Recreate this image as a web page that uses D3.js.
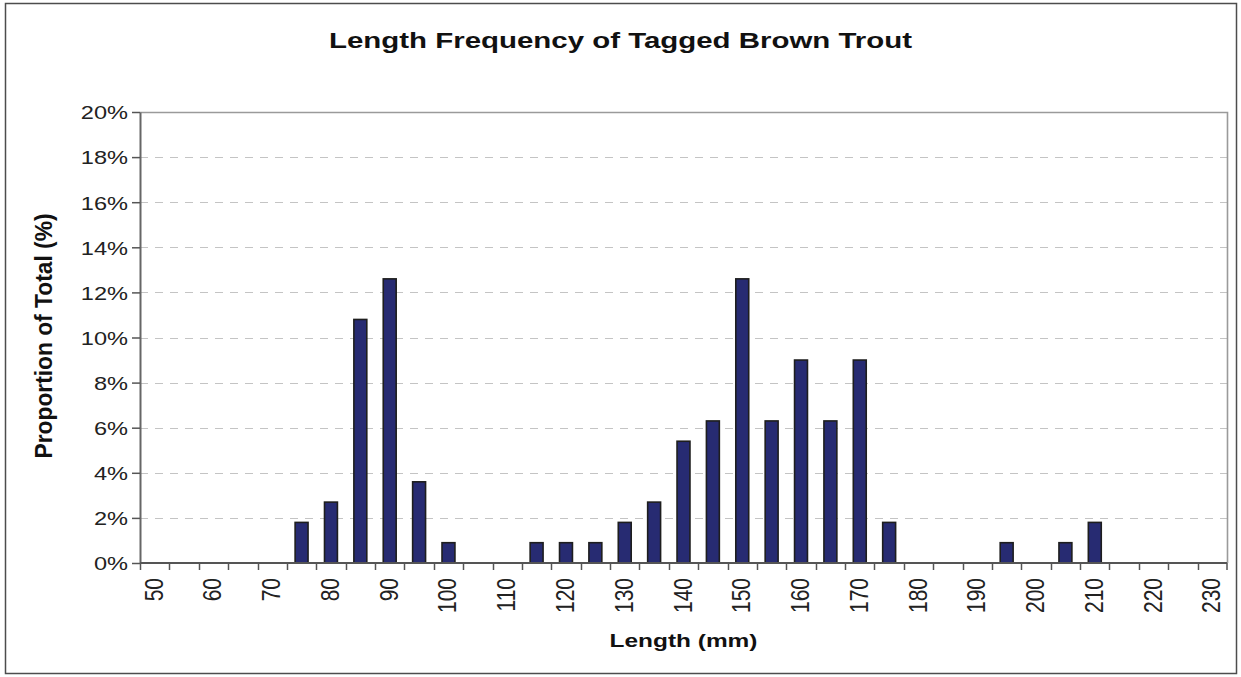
<!DOCTYPE html>
<html>
<head>
<meta charset="utf-8">
<script src="https://cdn.jsdelivr.net/npm/d3@7"></script>
<style>
  body { margin: 0; background: #fff; }
  svg { display: block; font-family: "Liberation Sans", Arial, sans-serif; }
</style>
</head>
<body>
<div class="g-chart"></div>
<script>
// length classes (mm), 5 mm steps
var lengths = d3.range(50, 235, 5);
// proportion of total (%) per length class
var lengthsWithFish = [75, 80, 85, 90, 95, 100, 115, 120, 125, 130, 135, 140, 145, 150, 155, 160, 165, 170, 175, 195, 205, 210];
var proportions     = [1.8, 2.7, 10.8, 12.6, 3.6, 0.9, 0.9, 0.9, 0.9, 1.8, 2.7, 5.4, 6.3, 12.6, 6.3, 9.0, 6.3, 9.0, 1.8, 0.9, 0.9, 1.8];
var yTicks = [0, 2, 4, 6, 8, 10, 12, 14, 16, 18, 20];
var xLabels = d3.range(50, 235, 10);

var data = lengths.map(function(l) {
  var i = lengthsWithFish.indexOf(l);
  return { length: l, value: i >= 0 ? proportions[i] : 0 };
});

var width = 1241, height = 677,
    margin = {top: 112, right: 14, bottom: 114, left: 140},
    stretch = 1.25; // the original picture is wider than it is tall

var svg = d3.select('.g-chart').append('svg')
  .attr('width', width)
  .attr('height', height);

// widen horizontal text to match the stretched original
function widen(sel, s) {
  sel.each(function() {
    var t = d3.select(this);
    t.attr('textLength', this.getComputedTextLength() * s)
     .attr('lengthAdjust', 'spacingAndGlyphs');
  });
}

// outer chart border
svg.append('rect')
  .attr('x', 5.5).attr('y', 3.5)
  .attr('width', 1231).attr('height', 670)
  .attr('fill', 'none')
  .attr('stroke', '#4d4d4d')
  .attr('stroke-width', 1.5);

var x = d3.scaleBand()
  .domain(lengths)
  .range([margin.left, width - margin.right])
  .paddingInner(0.56)
  .paddingOuter(0.28);

var xb = d3.scaleBand().domain(lengths).range([margin.left, width - margin.right]);

var y = d3.scaleLinear()
  .domain([0, 20])
  .range([height - margin.bottom, margin.top]);

var plotW = width - margin.right - margin.left;

// grid lines
svg.append('g')
  .selectAll('line')
  .data(yTicks.filter(function(d) { return d > 0 && d < 20; }))
  .enter().append('line')
  .attr('x1', margin.left).attr('x2', width - margin.right)
  .attr('y1', function(d) { return Math.round(y(d)) + 0.5; })
  .attr('y2', function(d) { return Math.round(y(d)) + 0.5; })
  .attr('stroke', '#c4c4c4')
  .attr('stroke-width', 1.2)
  .attr('stroke-dasharray', '8,7');

// top and right plot border
svg.append('path')
  .attr('d', 'M' + margin.left + ',' + (margin.top + 0.5) + 'H' + (width - margin.right + 0.5) + 'V' + (height - margin.bottom))
  .attr('fill', 'none')
  .attr('stroke', '#9a9a9a')
  .attr('stroke-width', 1.6);

// bars
svg.append('g')
  .selectAll('rect')
  .data(data.filter(function(d) { return d.value > 0; }))
  .enter().append('rect')
  .attr('x', function(d) { return x(d.length); })
  .attr('y', function(d) { return y(d.value); })
  .attr('width', x.bandwidth())
  .attr('height', function(d) { return y(0) - y(d.value); })
  .attr('fill', '#272b72')
  .attr('stroke', '#1e1e1e')
  .attr('stroke-width', 1.6);

// y axis
var yAxis = svg.append('g')
  .attr('transform', 'translate(' + margin.left + ',0)')
  .call(d3.axisLeft(y).tickValues(yTicks).tickSize(8).tickSizeOuter(0).tickPadding(4)
    .tickFormat(function(d) { return d + '%'; }));
yAxis.select('.domain').attr('stroke', '#666').attr('stroke-width', 2);
yAxis.selectAll('.tick line').attr('stroke', '#555').attr('stroke-width', 1.5);
yAxis.selectAll('.tick text').attr('font-size', 19).attr('fill', '#222').attr('dy', '0.36em');
widen(yAxis.selectAll('.tick text'), 1.24);

// x axis: ticks between categories, labels every 10 mm
var xAxisG = svg.append('g')
  .attr('transform', 'translate(0,' + (height - margin.bottom) + ')');
xAxisG.append('line')
  .attr('x1', margin.left).attr('x2', width - margin.right)
  .attr('stroke', '#555').attr('stroke-width', 2);
xAxisG.selectAll('.tk')
  .data(lengths.concat(['end']))
  .enter().append('line')
  .attr('class', 'tk')
  .attr('x1', function(d) { return d === 'end' ? width - margin.right : Math.round(xb(d)) + 0.5; })
  .attr('x2', function(d) { return d === 'end' ? width - margin.right : Math.round(xb(d)) + 0.5; })
  .attr('y1', 0).attr('y2', 7)
  .attr('stroke', '#555').attr('stroke-width', 1.5);
xAxisG.selectAll('.lbl')
  .data(xLabels)
  .enter().append('text')
  .attr('class', 'lbl')
  .attr('transform', function(d) {
    return 'translate(' + (xb(d) + xb.bandwidth() / 2 + 8) + ',15) scale(' + stretch + ',1) rotate(-90)';
  })
  .attr('text-anchor', 'end')
  .attr('font-size', 21)
  .attr('fill', '#222')
  .text(function(d) { return d; });

// titles
var title = svg.append('text')
  .attr('x', 620.5).attr('y', 48)
  .attr('text-anchor', 'middle')
  .attr('font-size', 22).attr('font-weight', 'bold')
  .attr('fill', '#111')
  .text('Length Frequency of Tagged Brown Trout');
widen(title, 583 / title.node().getComputedTextLength());

var xTitle = svg.append('text')
  .attr('x', margin.left + plotW / 2).attr('y', 647)
  .attr('text-anchor', 'middle')
  .attr('font-size', 19).attr('font-weight', 'bold')
  .attr('fill', '#111')
  .text('Length (mm)');
widen(xTitle, 148 / xTitle.node().getComputedTextLength());

var yTitle = svg.append('text')
  .attr('transform', 'translate(52,336) scale(' + stretch + ',1) rotate(-90)')
  .attr('text-anchor', 'middle')
  .attr('font-size', 19).attr('font-weight', 'bold')
  .attr('fill', '#111')
  .text('Proportion of Total (%)');
widen(yTitle, 245 / yTitle.node().getComputedTextLength());
</script>
</body>
</html>
